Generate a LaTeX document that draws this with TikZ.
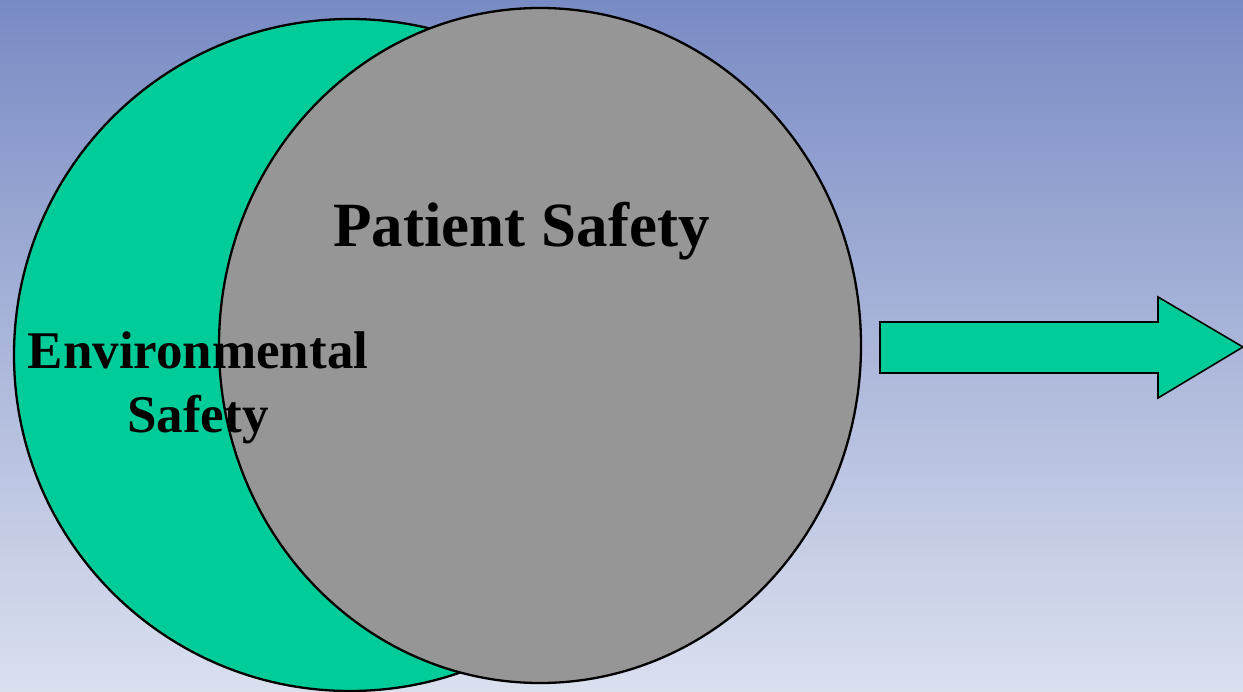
\documentclass[tikz,border=0pt]{standalone}
\usepackage{fontspec}
\setmainfont{Liberation Serif}
\usetikzlibrary{shapes.geometric}
\definecolor{bgtop}{RGB}{121,139,196}
\definecolor{bgbottom}{RGB}{219,224,239}
\definecolor{envgreen}{RGB}{0,204,153}
\definecolor{patgray}{RGB}{150,150,150}
\begin{document}
	\begin{tikzpicture}[x=1pt, y=-1pt,
		bigtext/.style={inner sep=0pt, font=\bfseries\fontsize{63}{66}\selectfont},
		envtext/.style={inner sep=0pt, font=\bfseries\fontsize{53}{64}\selectfont}]
		\useasboundingbox (0,0) rectangle (1243,692);
		\clip (0,0) rectangle (1243,692);
		\shade[top color=bgtop, bottom color=bgbottom] (0,0) rectangle (1243,692);
		
		\node[circle, draw, line width=2.3pt, fill=envgreen, minimum size=672pt, inner sep=0pt] (env) at (350,355) {};
		\node[ellipse, draw, line width=2.3pt, fill=patgray, minimum width=642pt, minimum height=675pt, inner sep=0pt] (patient) at (540,345.5) {};
		
		\draw[line width=1.6pt, fill=envgreen] (880,322) -- (1158,322) -- (1158,297) -- (1243,347) -- (1158,398) -- (1158,373) -- (880,373) -- cycle;
		
		\node[bigtext, anchor=base] (pattext) at (521.5,247) {Patient Safety};
		\node[envtext, anchor=base] (envtop) at (198,369) {Environmental};
		\node[envtext, anchor=base] (envbot) at (198,433) {Safety};
	\end{tikzpicture}
\end{document}
